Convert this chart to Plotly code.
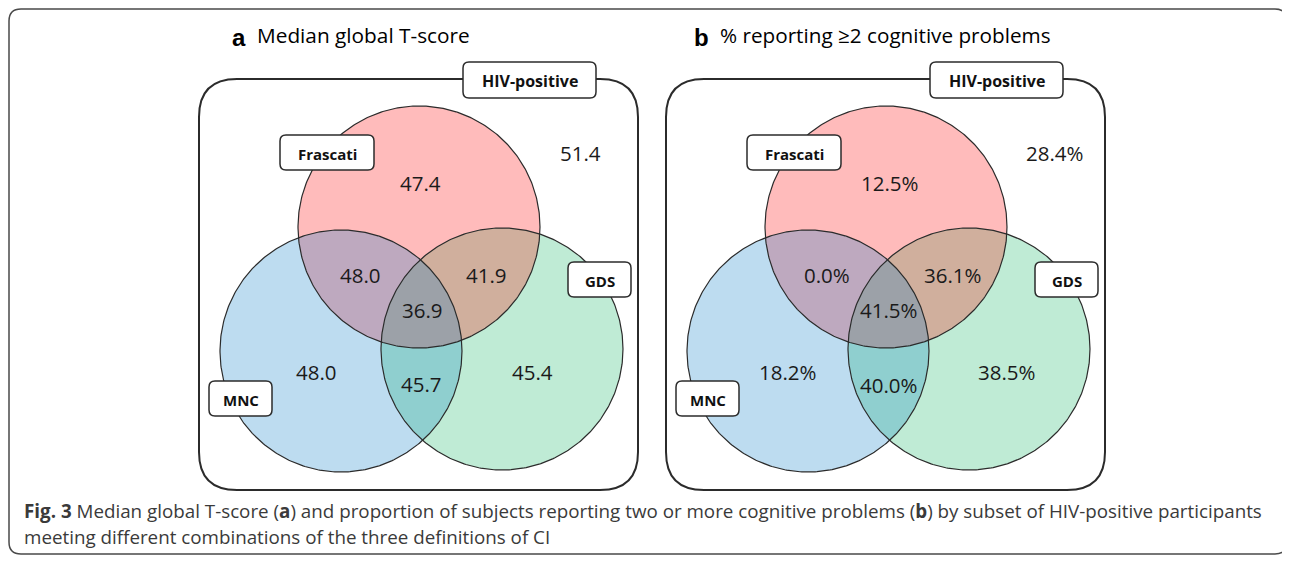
import numpy as np
import plotly.graph_objects as go

W, H = 1290, 563
PAGE_MARGIN = 8          # default body margin of the html page
FIG_W, FIG_H = W - PAGE_MARGIN, H - 2 * PAGE_MARGIN

# ---------------- data ----------------
set_names = ["Frascati", "MNC", "GDS"]
universe_label = "HIV-positive"
region_keys = ["F", "none", "FM", "FG", "FMG", "M", "MG", "G"]
median_t_score = [47.4, 51.4, 48.0, 41.9, 36.9, 48.0, 45.7, 45.4]
pct_two_plus_problems = [12.5, 28.4, 0.0, 36.1, 41.5, 18.2, 40.0, 38.5]
panel_letters = ["a", "b"]
panel_titles = ["Median global T-score", "% reporting ≥2 cognitive problems"]
caption_bold = "Fig. 3"
caption_line1 = (" Median global T-score (<b>a</b>) and proportion of subjects reporting two or more "
                 "cognitive problems (<b>b</b>) by subset of HIV-positive participants")
caption_line2 = "meeting different combinations of the three definitions of CI"

# ---------------- layout / style ----------------
PANEL_DX = [0, 467]
R = 121
centers = {"F": (419, 227), "M": (341, 351), "G": (502, 349)}
region_colors = {
    "F": "#FFBBBB", "M": "#BDDCF0", "G": "#BFEBD5",
    "FM": "#BEA9BF", "FG": "#D0AF9D", "MG": "#8FCFCF", "FMG": "#9CA1A8",
}
text_pos = [
    {"F": (420, 183), "none": (580, 153), "FM": (360, 275), "FG": (486, 275),
     "FMG": (422, 310), "M": (316, 372), "MG": (421, 384), "G": (532, 372)},
    {"F": (423, 183), "none": (588, 153), "FM": (360, 275), "FG": (486, 275),
     "FMG": (422, 310), "M": (321, 372), "MG": (422, 385), "G": (540, 372)},
]
label_boxes = {  # x0, y0, x1, y1
    "HIV-positive": (463, 62, 596, 98),
    "Frascati": (280, 135, 374, 170),
    "GDS": (568, 262, 631, 297),
    "MNC": (209, 381, 272, 416),
}
panel_box = (199, 79, 638, 490, 38)
outer_box = (9, 9, 1287, 554, 12)

LINE = "#2b2b2b"
NUM_FONT = "Open Sans"


def rounded_rect_path(x0, y0, x1, y1, r):
    return (f"M {x0+r},{y0} L {x1-r},{y0} Q {x1},{y0} {x1},{y0+r} "
            f"L {x1},{y1-r} Q {x1},{y1} {x1-r},{y1} L {x0+r},{y1} "
            f"Q {x0},{y1} {x0},{y1-r} L {x0},{y0+r} Q {x0},{y0} {x0+r},{y0} Z")


def circle_pts(cx, cy, r, n=400):
    t = np.linspace(0, 2 * np.pi, n)
    return cx + r * np.cos(t), cy + r * np.sin(t)


def intersection_pts(keys, dx, n=1440):
    xs, ys = [], []
    for k in keys:
        cx, cy = centers[k]
        t = np.linspace(0, 2 * np.pi, n, endpoint=False)
        px, py = cx + R * np.cos(t), cy + R * np.sin(t)
        mask = np.ones(n, bool)
        for o in keys:
            if o == k:
                continue
            ox, oy = centers[o]
            mask &= (px - ox) ** 2 + (py - oy) ** 2 <= R ** 2 + 1e-6
        xs.append(px[mask]); ys.append(py[mask])
    xs = np.concatenate(xs); ys = np.concatenate(ys)
    mx, my = xs.mean(), ys.mean()
    order = np.argsort(np.arctan2(ys - my, xs - mx))
    xs, ys = xs[order], ys[order]
    return np.append(xs, xs[0]) + dx, np.append(ys, ys[0])


fig = go.Figure()
shapes = []
annotations = []

# outer figure frame
ox0, oy0, ox1, oy1, orr = outer_box
shapes.append(dict(type="path", path=rounded_rect_path(ox0, oy0, ox1, oy1, orr),
                   line=dict(color="#4a4a4a", width=1.5), fillcolor="rgba(0,0,0,0)", layer="below"))

for p, dx in enumerate(PANEL_DX):
    # panel box
    bx0, by0, bx1, by1, br = panel_box
    shapes.append(dict(type="path", path=rounded_rect_path(bx0 + dx, by0, bx1 + dx, by1, br),
                       line=dict(color=LINE, width=2), fillcolor="white", layer="below"))
    # single circles
    for k in ["F", "M", "G"]:
        cx, cy = centers[k]
        x, y = circle_pts(cx + dx, cy, R)
        fig.add_trace(go.Scatter(x=x, y=y, mode="lines", fill="toself",
                                 fillcolor=region_colors[k], line=dict(width=0),
                                 hoverinfo="skip", showlegend=False))
    # pairwise + triple intersections
    for keys in [("F", "M"), ("F", "G"), ("M", "G"), ("F", "M", "G")]:
        x, y = intersection_pts(keys, dx)
        fig.add_trace(go.Scatter(x=x, y=y, mode="lines", fill="toself",
                                 fillcolor=region_colors["".join(keys)], line=dict(width=0),
                                 hoverinfo="skip", showlegend=False))
    # outlines
    for k in ["F", "M", "G"]:
        cx, cy = centers[k]
        x, y = circle_pts(cx + dx, cy, R)
        fig.add_trace(go.Scatter(x=x, y=y, mode="lines", line=dict(color=LINE, width=1.2),
                                 hoverinfo="skip", showlegend=False))
    # label boxes
    for name, (x0, y0, x1, y1) in label_boxes.items():
        shapes.append(dict(type="path", path=rounded_rect_path(x0 + dx, y0, x1 + dx, y1, 6),
                           line=dict(color=LINE, width=1.5), fillcolor="white", layer="above"))
        annotations.append(dict(x=(x0 + x1) / 2 + dx, y=(y0 + y1) / 2 + 1, text=f"<b>{name}</b>",
                                showarrow=False, xanchor="center", yanchor="middle",
                                font=dict(family="Open Sans", size=16 if name == universe_label else 15,
                                          color="#111")))
    # values
    vals = median_t_score if p == 0 else pct_two_plus_problems
    for key, v in zip(region_keys, vals):
        tx, ty = text_pos[p][key]
        txt = f"{v:.1f}" if p == 0 else f"{v:.1f}%"
        annotations.append(dict(x=tx + dx, y=ty, text=txt, showarrow=False,
                                xanchor="center", yanchor="middle",
                                font=dict(family=NUM_FONT, size=20.5, color="#1a1a1a")))

# panel titles
annotations.append(dict(x=239, y=37, text=f"<b>{panel_letters[0]}</b>", showarrow=False,
                        xanchor="center", yanchor="middle",
                        font=dict(family="Liberation Sans", size=24, color="black")))
annotations.append(dict(x=255, y=35, text=panel_titles[0], showarrow=False, xanchor="left", yanchor="middle",
                        font=dict(family="Open Sans", size=20.8, color="black")))
annotations.append(dict(x=701, y=37, text=f"<b>{panel_letters[1]}</b>", showarrow=False,
                        xanchor="center", yanchor="middle",
                        font=dict(family="Liberation Sans", size=24, color="black")))
annotations.append(dict(x=718, y=35, text=panel_titles[1], showarrow=False, xanchor="left", yanchor="middle",
                        font=dict(family="Open Sans", size=20.7, color="black")))

# caption
annotations.append(dict(x=22, y=511, text=f"<b>{caption_bold}</b>{caption_line1}", showarrow=False,
                        xanchor="left", yanchor="middle",
                        font=dict(family="Open Sans", size=18.8, color="#3a3a3a")))
annotations.append(dict(x=22, y=537, text=caption_line2, showarrow=False,
                        xanchor="left", yanchor="middle",
                        font=dict(family="Open Sans", size=18.8, color="#3a3a3a")))

fig.update_layout(
    width=FIG_W, height=FIG_H, margin=dict(l=0, r=0, t=0, b=0),
    paper_bgcolor="white", plot_bgcolor="white",
    xaxis=dict(range=[PAGE_MARGIN, W], visible=False, fixedrange=True),
    yaxis=dict(range=[PAGE_MARGIN + FIG_H, PAGE_MARGIN], visible=False, fixedrange=True),
    shapes=shapes, annotations=annotations, showlegend=False,
)
fig.write_html("out.html")
